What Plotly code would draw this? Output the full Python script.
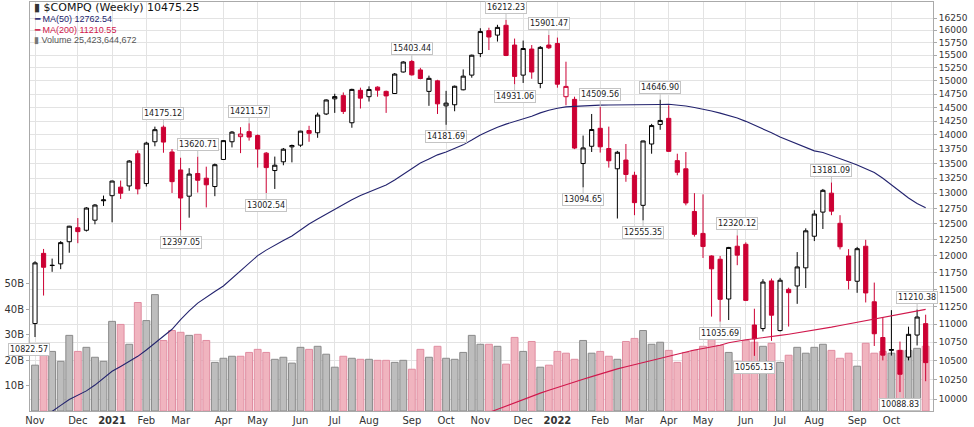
import math
import pandas as pd
import plotly.graph_objects as go

# weekly bars, week of Nov 2 2020 .. week of Oct 31 2022
weeks = pd.date_range('2020-11-02', periods=105, freq='W-MON')

opens = [11010, 12040, 11860, 11880, 12220, 12440, 12400, 12560, 12875, 12958,
         13100, 13120, 13670, 13160, 13880, 14140, 13700, 13390, 12950, 13330,
         13250, 13110, 13570, 13880, 13970, 14060, 13990, 13680, 13380, 13530,
         13790, 13820, 14080, 14040, 14380, 14660, 14720, 14220, 14820, 14700,
         14880, 14800, 14760, 15170, 15375, 15210, 14800, 15000, 14530, 14550,
         14830, 15110, 15530, 15990, 15900, 16100, 15700, 15110, 15620, 14950,
         15700, 15730, 14700, 14650, 13500, 13800, 14120, 13760, 13410, 13560,
         13300, 12800, 13840, 14190, 14300, 13550, 13410, 12700, 12350, 12000,
         11950, 11360, 12150, 12180, 10990, 10940, 11625, 10912, 11500, 11550,
         11820, 12306, 12690, 13000, 12510, 12000, 11620, 12150, 11320, 10816,
         10640, 10640, 10550, 10850, 11009]
highs = [11920, 12108, 11960, 12230, 12470, 12594, 12770, 12820, 12960, 13210,
         13210, 13560, 13728, 13880, 14150, 14175.12, 13750, 13600, 13420, 13620.71,
         13446, 13500, 13910, 14070, 14140, 14211.57, 14010, 13700, 13620, 13770,
         13830, 14075, 14165, 14405, 14650, 14755, 14780, 14850, 14870, 14895,
         14895, 14815, 15150, 15380, 15403.44, 15250, 15100, 15020, 14810, 14910,
         15220, 15510, 16040, 16050, 16110, 16212.23, 15830, 15790, 15700, 15680,
         15901.47, 15850, 15370, 14700, 13990, 14380, 14509.56, 14150, 13720, 13840,
         13360, 13900, 14200, 14646.90, 14540, 13670, 13700, 13000, 12980, 12010,
         12000, 12140, 12320.12, 12210, 11220, 11650, 11660, 11670, 11525, 12060,
         12430, 12720, 13070, 13181.09, 12640, 12105, 12140, 12250, 11600, 11100,
         11200, 10760, 10966, 11210.38, 11135]
lows = [10822.57, 11410, 11760, 11800, 12050, 12197, 12380, 12494, 12790, 12526,
        12905, 13040, 12980, 13110, 13800, 13687, 13003, 12397.05, 12600, 13010,
        12766, 12950, 13565, 13780, 13680, 13900, 13430, 13002.54, 13070, 13470,
        13520, 13790, 13880, 13950, 14360, 14400, 14380, 14130, 14480, 14610,
        14700, 14400, 14750, 15160, 15100, 15030, 14530, 14380, 14181.69, 14430,
        14820, 15060, 15460, 15600, 15770, 15480, 14931.06, 14960, 15040, 14860,
        15620, 14870, 14540, 13750, 13094.65, 13700, 13690, 13430, 12587, 13190,
        12640, 12555.35, 13670, 14093, 13700, 13300, 12800, 12300, 11970, 11108,
        11035.69, 11060, 11860, 11330, 10565.13, 10900, 10770, 10900, 10968, 11290,
        11520, 12230, 12420, 12640, 12100, 11500, 11450, 11310, 10700, 10505,
        10570, 10088.83, 10505, 10707, 10230]
closes = [11895, 11829, 11855, 12206, 12464, 12378, 12756, 12805, 12888, 13202,
          12999, 13543, 13071, 13856, 14095, 13874, 13192, 12920, 13320, 13215,
          13139, 13480, 13900, 14052, 14017, 13963, 13752, 13430, 13471, 13749,
          13814, 14069, 14030, 14360, 14639, 14702, 14427, 14837, 14673, 14836,
          14823, 14715, 15130, 15364, 15115, 15044, 15048, 14567, 14580, 14897,
          15090, 15498, 15972, 15861, 16057, 15492, 15085, 15631, 15170, 15653,
          15645, 14936, 14894, 13769, 13771, 14098, 13791, 13548, 13695, 13313,
          12844, 13894, 14169, 14262, 13711, 13351, 12839, 12335, 12145, 11805,
          11355, 12131, 12013, 11340, 10798, 11608, 11128, 11635, 11452, 11834,
          12391, 12658, 13047, 12705, 12142, 11631, 12112, 11448, 10868, 10576,
          10652, 10321, 10860, 11102, 10475.25]
volume_b = [18.0, 21.9, 23.4, 19.5, 29.7, 23.4, 25.0, 21.1, 19.5, 35.2,
            34.0, 26.2, 42.6, 35.5, 45.7, 27.7, 31.6, 30.9, 29.7, 30.1,
            27.7, 19.1, 20.7, 21.5, 21.5, 23.0, 24.2, 23.0, 20.3, 21.1,
            18.8, 25.0, 24.2, 25.4, 22.3, 17.2, 21.5, 20.7, 20.3, 20.3,
            19.9, 19.9, 19.1, 19.9, 16.4, 24.2, 21.1, 25.4, 20.7, 20.3,
            23.0, 29.7, 26.2, 26.2, 25.4, 18.4, 28.9, 23.4, 27.3, 17.2,
            18.0, 23.4, 22.7, 20.3, 27.7, 22.7, 23.4, 21.5, 20.3, 27.3,
            28.5, 31.6, 26.2, 27.0, 23.8, 19.1, 23.0, 23.8, 25.4, 28.9,
            25.8, 23.0, 19.5, 27.7, 27.0, 25.4, 26.6, 19.1, 21.9, 25.0,
            22.7, 25.0, 26.2, 23.8, 20.7, 22.7, 17.6, 26.6, 22.7, 23.4,
            22.7, 23.8, 23.8, 24.6, 25.42]
ma50 = [None,
        9770, 9840, 9920, 9995, 10050, 10105, 10180, 10270, 10360, 10425,
        10490, 10560, 10645, 10735, 10830, 10930, 11065, 11190, 11300, 11390,
        11470, 11550, 11660, 11770, 11890, 12005, 12090, 12170, 12240, 12310,
        12410, 12500, 12580, 12660, 12735, 12810, 12890, 12960, 13020, 13080,
        13135, 13220, 13320, 13420, 13510, 13580, 13650, 13700, 13760, 13825,
        13910, 14000, 14070, 14140, 14195, 14240, 14290, 14340, 14400, 14450,
        14485, 14510, 14520, 14530, 14538, 14543, 14545, 14545, 14545, 14545,
        14545, 14545, 14555, 14560, 14548, 14527, 14500, 14470, 14435, 14395,
        14350, 14305, 14245, 14180, 14110, 14040, 13965, 13900, 13840, 13770,
        13720, 13690, 13640, 13585, 13530, 13475, 13410, 13345, 13250, 13140,
        13030, 12920, 12830, 12762.54]
ma200 = [None] * 53 + [
        9830, 9870, 9915, 9960, 10000, 10040, 10076, 10112, 10150, 10187,
        10222, 10255, 10290, 10325, 10360, 10392, 10420, 10448, 10475, 10503,
        10533, 10563, 10595, 10624, 10645, 10665, 10685, 10710, 10745, 10770,
        10785, 10800, 10812, 10828, 10845, 10862, 10880, 10898, 10915, 10937,
        10960, 10983, 11005, 11028, 11050, 11075, 11100, 11122, 11145, 11168,
        11190, 11210.55]
price_ticks = list(range(10000, 16251, 250))
vol_ticks = [10, 20, 30, 40, 50]
# (week index, 'h' or 'l') for the marked highs/lows
marks = [(0, 'l'), (15, 'h'), (17, 'l'), (19, 'h'), (25, 'h'), (27, 'l'), (44, 'h'),
         (48, 'l'), (55, 'h'), (56, 'l'), (60, 'h'), (64, 'l'), (66, 'h'), (71, 'l'),
         (73, 'h'), (80, 'l'), (82, 'h'), (84, 'l'), (93, 'h'), (101, 'l'), (103, 'h')]

red = '#cc0033'
navy = '#23236e'
ma_red = '#d0184c'
grid = '#e3e3e3'
font_family = 'DejaVu Sans, Verdana, sans-serif'
legend_font = 'Liberation Sans, Arial, sans-serif'

# stockcharts style: colour by close vs previous close, hollow when close > open
up = [i == 0 or closes[i] >= closes[i - 1] for i in range(len(closes))]
blk = [i for i in range(len(closes)) if up[i]]
rd = [i for i in range(len(closes)) if not up[i]]

fig = go.Figure()

fig.add_trace(go.Bar(
    x=weeks, y=[v * 1e9 for v in volume_b], yaxis='y',
    marker=dict(color=['#bdbdbd' if u else '#f0b4bf' for u in up],
                line=dict(color=['#8a8a8a' if u else '#e08ca0' for u in up], width=1)),
    showlegend=False))


def candles(idx, col, fill):
    return go.Candlestick(
        x=[weeks[i] for i in idx], open=[opens[i] for i in idx],
        high=[highs[i] for i in idx], low=[lows[i] for i in idx],
        close=[closes[i] for i in idx], yaxis='y2',
        increasing=dict(line=dict(color=col, width=1), fillcolor='white'),
        decreasing=dict(line=dict(color=col, width=1), fillcolor=fill),
        showlegend=False)


fig.add_trace(candles(blk, 'black', 'black'))
fig.add_trace(candles(rd, red, red))

fig.add_trace(go.Scatter(x=weeks, y=ma50, yaxis='y2', mode='lines',
                         line=dict(color=navy, width=1.1), showlegend=False))
fig.add_trace(go.Scatter(x=weeks, y=ma200, yaxis='y2', mode='lines',
                         line=dict(color=ma_red, width=1.1), showlegend=False))

# month ticks at first week of each month
tickvals, ticktext = [], []
for i, w in enumerate(weeks):
    if i == 0 or w.month != weeks[i - 1].month:
        tickvals.append(w)
        ticktext.append(f'<b>{w.year}</b>' if w.month == 1 else w.strftime('%b'))

anns = []
for i, k in marks:
    v = highs[i] if k == 'h' else lows[i]
    anns.append(dict(
        x=weeks[i], y=math.log10(v), xref='x', yref='y2',
        text=f'{v:.2f}', showarrow=True, arrowhead=0, arrowwidth=1,
        arrowcolor='#c4c4c4', ax=0, ay=-12 if k == 'h' else 12, standoff=0,
        bgcolor='white', bordercolor='#c4c4c4', borderwidth=1, borderpad=1,
        font=dict(size=8, color='#222', family=font_family)))
anns[0]['xshift'] = -6

# legend block, top left
leg = [('<span style="color:#333">▮</span> $COMPQ (Weekly) 10475.25', '#111', 11, 7, font_family),
       ('<span style="color:%s">━</span> MA(50) 12762.54' % navy, navy, 9, 18, legend_font),
       ('<span style="color:%s">━</span> MA(200) 11210.55' % ma_red, ma_red, 9, 29, legend_font),
       ('<span style="color:#777">▮</span> Volume 25,423,644,672', '#555', 9, 39, legend_font)]
for t, c, s, ypix, fam in leg:
    anns.append(dict(xref='paper', yref='paper', x=0, y=(413 - ypix) / 412,
                     xanchor='left', yanchor='middle', xshift=2, showarrow=False,
                     text=t, font=dict(size=s, color=c, family=fam)))

fig.update_layout(
    width=974, height=427,
    margin=dict(l=30, r=41, t=1, b=14),
    paper_bgcolor='white', plot_bgcolor='white',
    font=dict(family=font_family, size=9, color='#333'),
    hovermode=False, bargap=0.2, showlegend=False,
    annotations=anns,
    xaxis=dict(type='date', range=['2020-10-28 21:50', '2022-11-06'],
               tickvals=tickvals, ticktext=ticktext, showgrid=True, gridcolor=grid,
               showline=True, linecolor='#aaaaaa', mirror=True, ticks='',
               tickfont=dict(size=10, color='#333'), rangeslider=dict(visible=False)),
    yaxis=dict(range=[0, 160.6e9], side='left', tickvals=[v * 1e9 for v in vol_ticks],
               ticktext=[f'{v}B' for v in vol_ticks], showgrid=False, zeroline=False,
               ticks='outside', ticklen=3, tickcolor='#aaaaaa',
               tickfont=dict(size=10, color='#333'),
               showline=True, linecolor='#aaaaaa'),
    yaxis2=dict(type='log', overlaying='y', side='right',
                range=[math.log10(9849.3), math.log10(16585)],
                tickvals=price_ticks, ticktext=[str(v) for v in price_ticks],
                showgrid=True, gridcolor=grid, zeroline=False,
                ticks='outside', ticklen=3, tickcolor='#aaaaaa',
                tickfont=dict(size=9, color='#333'),
                showline=True, linecolor='#aaaaaa'),
)

# page body has a default margin; drop it so the figure sits at the window corner
fig.write_html('out.html', config={'displayModeBar': False},
               post_script="document.body.style.margin='0';document.body.style.overflow='hidden';")
